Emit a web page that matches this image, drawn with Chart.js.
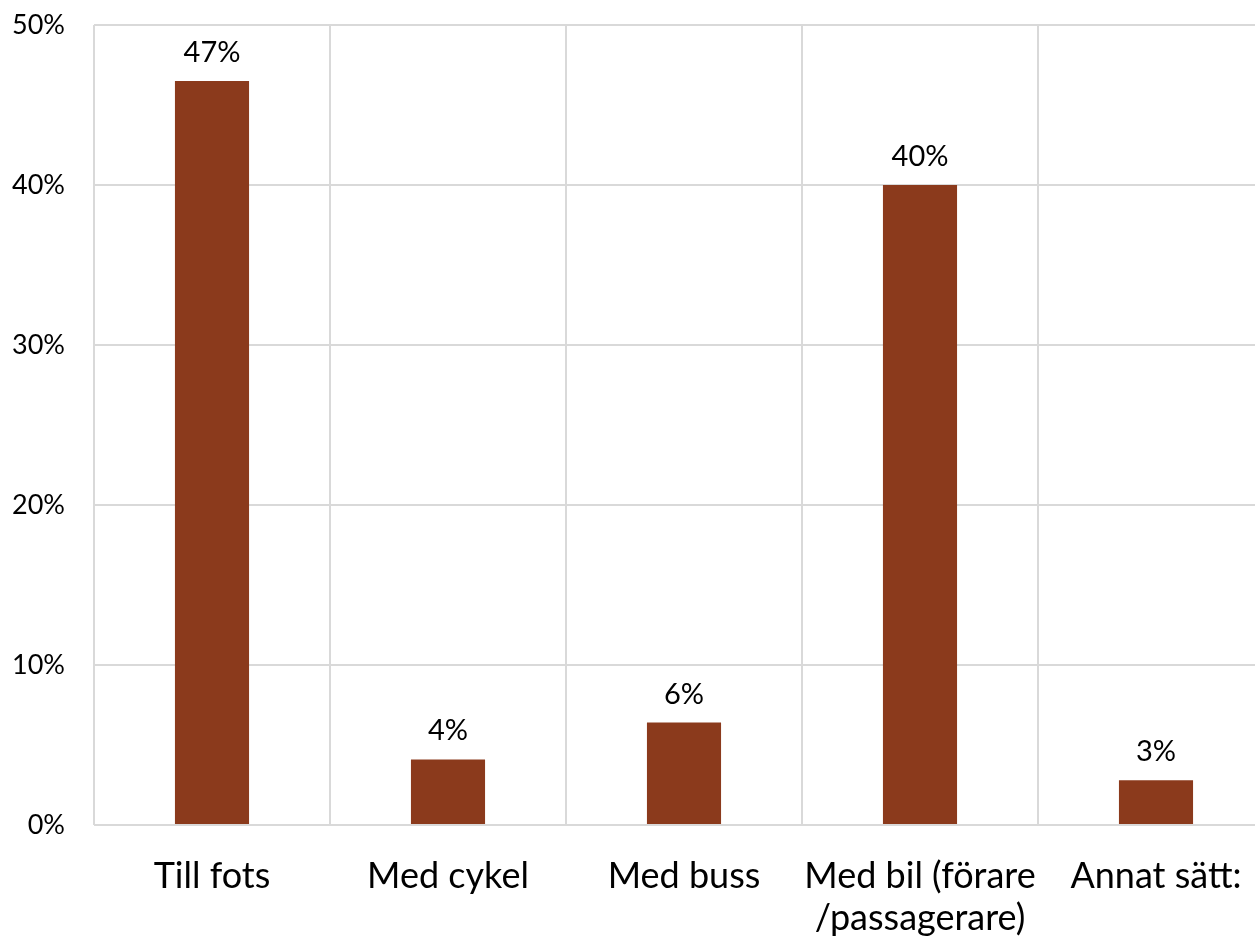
<!DOCTYPE html>
<html>
<head>
<meta charset="utf-8">
<script src="https://cdn.jsdelivr.net/npm/chart.js@4.4.1/dist/chart.umd.min.js"></script>
<style>
  html, body { margin: 0; padding: 0; background: #fff; overflow: hidden; }
  #wrap { width: 1274px; height: 940px; }
</style>
</head>
<body>
<div id="wrap"><canvas id="chart" width="1274" height="940"></canvas></div>
<script>
(function () {
  'use strict';

  const categories = ['Till fots', 'Med cykel', 'Med buss', ['Med bil (förare', '/passagerare)'], 'Annat sätt:'];
  const shares = [46.5, 4.1, 6.4, 40.0, 2.8];
  const shareLabels = ['47%', '4%', '6%', '40%', '3%'];
  const yTicks = [0, 10, 20, 30, 40, 50];

  const BAR_COLOR = '#8b3a1c';
  const GRID = '#d9d9d9';
  const FONT = 'Lato, "Noto Sans", sans-serif';

  // draw the percent labels above each bar
  const valueLabels = {
    id: 'valueLabels',
    afterDatasetsDraw: function (chart) {
      const ctx = chart.ctx;
      const meta = chart.getDatasetMeta(0);
      ctx.save();
      ctx.font = '29px ' + FONT;
      ctx.fillStyle = '#000';
      ctx.textAlign = 'center';
      ctx.textBaseline = 'alphabetic';
      meta.data.forEach(function (bar, i) {
        ctx.fillText(shareLabels[i], bar.x, bar.y - 19);
      });
      ctx.restore();
    }
  };

  new Chart(document.getElementById('chart'), {
    type: 'bar',
    data: {
      labels: categories,
      datasets: [{
        data: shares,
        backgroundColor: BAR_COLOR,
        categoryPercentage: 1,
        barPercentage: 0.314
      }]
    },
    options: {
      responsive: false,
      animation: false,
      layout: { padding: { top: 25, right: 0, left: 0, bottom: 0 } },
      plugins: { legend: { display: false }, tooltip: { enabled: false } },
      scales: {
        x: {
          grid: { color: GRID, lineWidth: 2, offset: true, drawTicks: false },
          border: { display: false },
          afterFit: function (axis) { axis.height = 115; },
          ticks: {
            color: '#000',
            font: { family: FONT, size: 36, lineHeight: 1.17 },
            padding: 30,
            maxRotation: 0,
            autoSkip: false
          }
        },
        y: {
          min: 0,
          max: 50,
          afterBuildTicks: function (axis) {
            axis.ticks = yTicks.map(function (v) { return { value: v }; });
          },
          afterFit: function (axis) {
            // fixed axis width; tick padding should not push the plot down
            axis.width = 94;
            axis.paddingTop = 0;
            axis.paddingBottom = 0;
          },
          grid: { color: GRID, lineWidth: 2, drawTicks: false },
          border: { display: false },
          ticks: {
            color: '#000',
            font: { family: FONT, size: 27 },
            padding: 29,
            callback: function (v) { return v + '%'; }
          }
        }
      }
    },
    plugins: [valueLabels]
  });
})();
</script>
</body>
</html>
